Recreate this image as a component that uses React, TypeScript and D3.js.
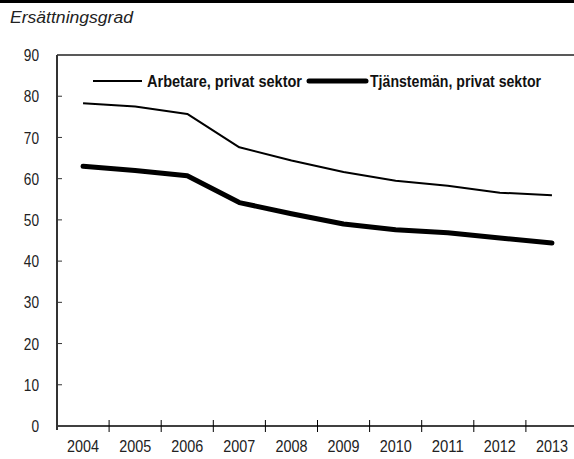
import React from "react";
import * as d3 from "d3";

const years = ["2004","2005","2006","2007","2008","2009","2010","2011","2012","2013"];
const arbetare = [78.3, 77.5, 75.7, 67.6, 64.4, 61.6, 59.5, 58.3, 56.6, 56.0];
const tjansteman = [63.0, 62.0, 60.7, 54.2, 51.5, 49.0, 47.6, 46.9, 45.6, 44.4];
const yTicks = [0, 10, 20, 30, 40, 50, 60, 70, 80, 90];

const FONT = "'Liberation Sans', 'DejaVu Sans', sans-serif";

export default function App() {
  const W = 574, H = 459;
  const left = 57, right = 578, top = 55, bottom = 426;
  const x = d3.scaleBand<string>().domain(years).range([left, right]);
  const y = d3.scaleLinear().domain([0, 90]).range([bottom, top]);
  const line = d3.line<number>()
    .x((_, i) => (x(years[i]) as number) + x.bandwidth() / 2)
    .y(d => y(d));
  const boundaries = years.slice(1).map(yr => x(yr) as number);

  return (
    <svg width={W} height={H} style={{ position: "absolute", left: 0, top: 0, background: "#fff" }}>
      <rect x={0} y={0} width={W} height={3} fill="#000" />
      <text x={10} y={23} fontFamily={FONT} fontStyle="italic" fontSize={16} fill="#222" textLength={123} lengthAdjust="spacingAndGlyphs">Ersättningsgrad</text>
      {/* frame */}
      <line x1={left} x2={W} y1={top} y2={top} stroke="#222" strokeWidth={1.5} />
      <line x1={left} x2={W} y1={bottom} y2={bottom} stroke="#000" strokeWidth={1.5} />
      <line x1={left} x2={left} y1={top} y2={bottom + 4} stroke="#333" strokeWidth={2} />
      {yTicks.map(t => (
        <g key={t}>
          {t > 0 && t < 90 && <line x1={left} x2={left + 5} y1={y(t)} y2={y(t)} stroke="#333" strokeWidth={1} />}
          <text x={39} y={y(t)} dy="0.36em" textAnchor="end" fontFamily={FONT} fontSize={17} fill="#222"
            textLength={String(t).length * 7.6} lengthAdjust="spacingAndGlyphs">{t}</text>
        </g>
      ))}
      {boundaries.map((b, i) => (
        <line key={i} x1={b} x2={b} y1={bottom - 6} y2={bottom + 6} stroke="#000" strokeWidth={1} />
      ))}
      {years.map(yr => (
        <text key={yr} x={(x(yr) as number) + x.bandwidth() / 2} y={446} dy="0.36em" textAnchor="middle" fontFamily={FONT} fontSize={17} fill="#222"
          textLength={32} lengthAdjust="spacingAndGlyphs">{yr}</text>
      ))}
      <path d={line(arbetare) || ""} fill="none" stroke="#000" strokeWidth={2} strokeLinejoin="round" />
      <path d={line(tjansteman) || ""} fill="none" stroke="#000" strokeWidth={5} strokeLinejoin="round" strokeLinecap="round" />
      {/* legend */}
      <line x1={93} x2={142} y1={81} y2={81} stroke="#000" strokeWidth={2} />
      <text x={147} y={81} dy="0.36em" fontFamily={FONT} fontWeight="bold" fontSize={16} fill="#111" textLength={155} lengthAdjust="spacingAndGlyphs">Arbetare, privat sektor</text>
      <line x1={309} x2={366} y1={81} y2={81} stroke="#000" strokeWidth={5} strokeLinecap="round" />
      <text x={370} y={81} dy="0.36em" fontFamily={FONT} fontWeight="bold" fontSize={16} fill="#111" textLength={171} lengthAdjust="spacingAndGlyphs">Tjänstemän, privat sektor</text>
    </svg>
  );
}
